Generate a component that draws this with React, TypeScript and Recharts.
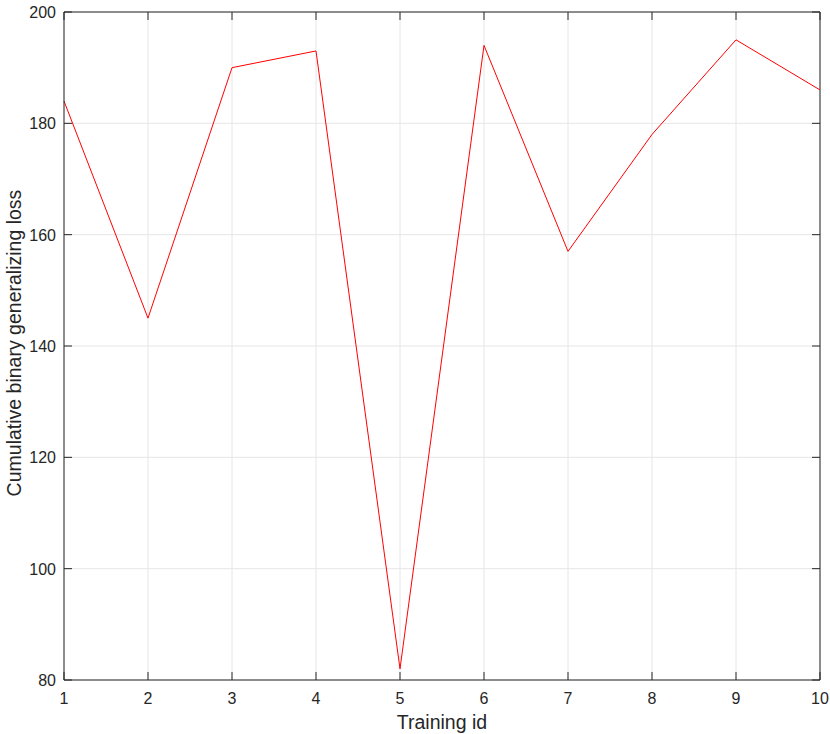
import { LineChart, Line, XAxis, YAxis, CartesianGrid, ReferenceLine } from 'recharts'

// ---- data ----
const trainingIds = [1, 2, 3, 4, 5, 6, 7, 8, 9, 10]
const lossValues = [184, 145, 190, 193, 82, 194, 157, 178, 195, 186]
const yTicks = [80, 100, 120, 140, 160, 180, 200]

const data = trainingIds.map((id, i) => ({ id, loss: lossValues[i] }))

// ---- layout ----
const W = 830
const H = 734
const PLOT_LEFT = 64
const PLOT_RIGHT = 820
const PLOT_TOP = 12
const PLOT_BOTTOM = 680
const TICK_LEN = 8
const AXIS = '#262626'
const FONT = '"Liberation Sans", Arial, Helvetica, sans-serif'

function XTick(props: any) {
  const { x, payload } = props
  return (
    <g>
      <line x1={x} x2={x} y1={PLOT_BOTTOM} y2={PLOT_BOTTOM - TICK_LEN} stroke={AXIS} />
      <line x1={x} x2={x} y1={PLOT_TOP} y2={PLOT_TOP + TICK_LEN} stroke={AXIS} />
      <text x={x} y={PLOT_BOTTOM + 24} textAnchor="middle" fontSize={16} fill={AXIS} fontFamily={FONT}>
        {payload.value}
      </text>
    </g>
  )
}

function YTick(props: any) {
  const { y, payload } = props
  return (
    <g>
      <line x1={PLOT_LEFT} x2={PLOT_LEFT + TICK_LEN} y1={y} y2={y} stroke={AXIS} />
      <line x1={PLOT_RIGHT} x2={PLOT_RIGHT - TICK_LEN} y1={y} y2={y} stroke={AXIS} />
      <text x={PLOT_LEFT - 8} y={y + 6} textAnchor="end" fontSize={16} fill={AXIS} fontFamily={FONT}>
        {payload.value}
      </text>
    </g>
  )
}

export default function App() {
  const midX = (PLOT_LEFT + PLOT_RIGHT) / 2
  const midY = 343
  return (
    <div style={{ position: 'absolute', left: 0, top: 0, width: W, height: H, background: '#fff' }}>
      <LineChart
        width={W}
        height={H}
        data={data}
        margin={{ top: PLOT_TOP, right: W - PLOT_RIGHT, left: 0, bottom: 0 }}
      >
        <CartesianGrid stroke="#e6e6e6" />
        <XAxis
          dataKey="id"
          type="number"
          domain={[1, 10]}
          ticks={trainingIds}
          height={H - PLOT_BOTTOM}
          stroke={AXIS}
          tickLine={false}
          tick={(p: any) => <XTick {...p} />}
          label={{
            content: () => (
              <text x={midX} y={729} textAnchor="middle" fontSize={19.5} fill={AXIS} fontFamily={FONT}>
                Training id
              </text>
            ),
          }}
        />
        <YAxis
          type="number"
          domain={[80, 200]}
          ticks={yTicks}
          width={PLOT_LEFT}
          stroke={AXIS}
          tickLine={false}
          tick={(p: any) => <YTick {...p} />}
          label={{
            content: () => (
              <text
                x={21}
                y={midY}
                transform={`rotate(-90, 21, ${midY})`}
                textAnchor="middle"
                fontSize={19.5}
                fill={AXIS}
                fontFamily={FONT}
              >
                Cumulative binary generalizing loss
              </text>
            ),
          }}
        />
        <ReferenceLine y={200} stroke={AXIS} />
        <ReferenceLine x={10} stroke={AXIS} />
        <Line
          type="linear"
          dataKey="loss"
          stroke="#ff0000"
          strokeWidth={1}
          dot={false}
          isAnimationActive={false}
        />
      </LineChart>
    </div>
  )
}
